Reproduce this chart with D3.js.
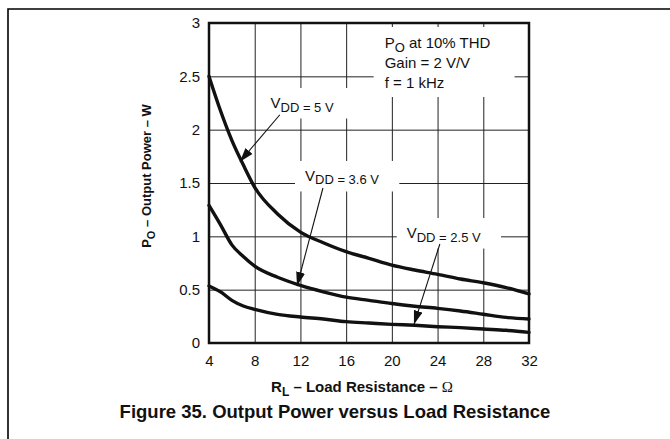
<!DOCTYPE html>
<html>
<head>
<meta charset="utf-8">
<script src="https://cdn.jsdelivr.net/npm/d3@7"></script>
<style>
  body { margin: 0; background: #fff; }
  text { font-family: "Liberation Sans", Arial, Helvetica, sans-serif; fill: #111; }
</style>
</head>
<body>
<svg id="chart" width="670" height="439"></svg>
<script>
// Load resistance (ohms) and output power (W) at 10% THD for each supply voltage
const loadOhms = [4, 5, 6, 7, 8, 10, 12, 14, 16, 18, 20, 22, 24, 26, 28, 30, 32];
const pout5V   = [2.5, 2.18, 1.9, 1.67, 1.46, 1.21, 1.04, 0.94, 0.856, 0.794, 0.73, 0.684, 0.644, 0.60, 0.565, 0.52, 0.46];
const pout36V  = [1.29, 1.11, 0.92, 0.81, 0.72, 0.616, 0.54, 0.48, 0.43, 0.40, 0.37, 0.345, 0.325, 0.30, 0.27, 0.24, 0.225];
const pout25V  = [0.535, 0.48, 0.40, 0.347, 0.316, 0.269, 0.244, 0.225, 0.2, 0.1875, 0.175, 0.166, 0.153, 0.144, 0.131, 0.119, 0.10];

const xTickValues = [4, 8, 12, 16, 20, 24, 28, 32];
const yTickValues = [0, 0.5, 1, 1.5, 2, 2.5, 3];
const yTickLabels = ["0", "0.5", "1", "1.5", "2", "2.5", "3"];

const seriesLabels = ["5", "3.6", "2.5"];
const conditionLines = ["at 10% THD", "Gain = 2 V/V", "f = 1 kHz"];

const svg = d3.select("#chart");
const W = 670, H = 439;
const plot = { left: 209, right: 529, top: 23, bottom: 343 };

const x = d3.scaleLinear().domain([4, 32]).range([plot.left, plot.right]);
const y = d3.scaleLinear().domain([0, 3]).range([plot.bottom, plot.top]);

svg.append("rect").attr("width", W).attr("height", H).attr("fill", "#fff");

// page frame
svg.append("path")
  .attr("d", `M8,${H} L8,9 L${W},9`)
  .attr("fill", "none").attr("stroke", "#000").attr("stroke-width", 1.6);

// grid + tick labels
const gx = svg.append("g")
  .attr("transform", `translate(0,${plot.bottom})`)
  .call(d3.axisBottom(x).tickValues(xTickValues).tickSizeInner(-(plot.bottom - plot.top)).tickSizeOuter(0).tickPadding(12.5));
const gy = svg.append("g")
  .attr("transform", `translate(${plot.left},0)`)
  .call(d3.axisLeft(y).tickValues(yTickValues).tickFormat((d, i) => yTickLabels[i])
        .tickSizeInner(-(plot.right - plot.left)).tickSizeOuter(0).tickPadding(9));
[gx, gy].forEach(g => {
  g.select(".domain").remove();
  g.selectAll(".tick line").attr("stroke", "#222").attr("stroke-width", 1);
  g.selectAll(".tick text").attr("font-size", 15).attr("fill", "#111")
    .style("font-family", '"Liberation Sans", Arial, sans-serif');
});

// label layer (white boxes mask the grid behind text)
const boxLayer = svg.append("g");
const curveLayer = svg.append("g");
const textLayer = svg.append("g");

// curves
const line = d3.line().x(d => x(d[0])).y(d => y(d[1])).curve(d3.curveMonotoneX);
[pout5V, pout36V, pout25V].forEach(vals => {
  curveLayer.append("path")
    .datum(loadOhms.map((r, i) => [r, vals[i]]))
    .attr("d", line)
    .attr("fill", "none").attr("stroke", "#111").attr("stroke-width", 3.4)
    .attr("stroke-linejoin", "round").attr("stroke-linecap", "round");
});

// plot border
svg.append("rect")
  .attr("x", plot.left).attr("y", plot.top)
  .attr("width", plot.right - plot.left).attr("height", plot.bottom - plot.top)
  .attr("fill", "none").attr("stroke", "#111").attr("stroke-width", 2.5);

// arrowhead marker
svg.append("defs").append("marker")
  .attr("id", "arrow").attr("markerUnits", "userSpaceOnUse")
  .attr("viewBox", "0 0 14 9").attr("refX", 14).attr("refY", 4.5)
  .attr("markerWidth", 14).attr("markerHeight", 9).attr("orient", "auto")
  .append("path").attr("d", "M0,0 L14,4.5 L0,9 Z").attr("fill", "#111");

function boxBehind(textSel, pad) {
  const b = textSel.node().getBBox();
  boxLayer.append("rect")
    .attr("x", b.x - pad.l).attr("y", b.y - pad.t)
    .attr("width", b.width + pad.l + pad.r).attr("height", b.height + pad.t + pad.b)
    .attr("fill", "#fff");
}

// supply voltage labels with leader arrows
const vddNotes = [
  { label: seriesLabels[0], at: [9.38, 2.203], from: [10.2, 2.14], to: [6.7, 1.70] },
  { label: seriesLabels[1], at: [12.4, 1.519], from: [13.97, 1.453], to: [11.7, 0.534] },
  { label: seriesLabels[2], at: [21.3, 0.984], from: [24.2, 0.928], to: [21.93, 0.173] }
];
vddNotes.forEach(n => {
  const t = textLayer.append("text")
    .attr("x", x(n.at[0])).attr("y", y(n.at[1])).attr("font-size", 15);
  t.append("tspan").text("V");
  t.append("tspan").attr("font-size", 13).attr("dy", 3.5).text(`DD = ${n.label} V`);
  boxBehind(t, { l: 10, r: 20, t: 6, b: 4 });
  textLayer.append("line")
    .attr("x1", x(n.from[0])).attr("y1", y(n.from[1]))
    .attr("x2", x(n.to[0])).attr("y2", y(n.to[1]))
    .attr("stroke", "#111").attr("stroke-width", 1.1)
    .attr("marker-end", "url(#arrow)");
});

// test conditions block
const cond = textLayer.append("text").attr("font-size", 15);
const cx = x(19.37);
cond.append("tspan").text("P").attr("x", cx).attr("y", 48);
cond.append("tspan").attr("font-size", 13).attr("dy", 4).text("O");
cond.append("tspan").attr("dy", -4).text(" " + conditionLines[0]);
cond.append("tspan").attr("x", cx).attr("y", 68).text(conditionLines[1]);
cond.append("tspan").attr("x", cx).attr("y", 88).text(conditionLines[2]);
boxBehind(cond, { l: 11, r: 24, t: 7, b: 6 });

// axis titles
const xt = svg.append("text")
  .attr("x", 362).attr("y", 392).attr("text-anchor", "middle")
  .attr("font-size", 15).attr("font-weight", "bold");
xt.append("tspan").text("R");
xt.append("tspan").attr("font-size", 12).attr("dy", 4).text("L");
xt.append("tspan").attr("dy", -4).text(" – Load Resistance – ");
xt.append("tspan").attr("font-weight", "normal").style("font-family", '"Liberation Serif", serif').text("Ω");

const yt = svg.append("text")
  .attr("transform", "translate(151,176) rotate(-90)")
  .attr("text-anchor", "middle")
  .attr("font-size", 13).attr("font-weight", "bold");
yt.append("tspan").text("P");
yt.append("tspan").attr("font-size", 11).attr("dy", 4).text("O");
yt.append("tspan").attr("dy", -4).text(" – Output Power – W");

// caption
svg.append("text")
  .attr("x", 335).attr("y", 418).attr("text-anchor", "middle")
  .attr("font-size", 18.5).attr("font-weight", "bold")
  .text("Figure 35. Output Power versus Load Resistance");
</script>
</body>
</html>
